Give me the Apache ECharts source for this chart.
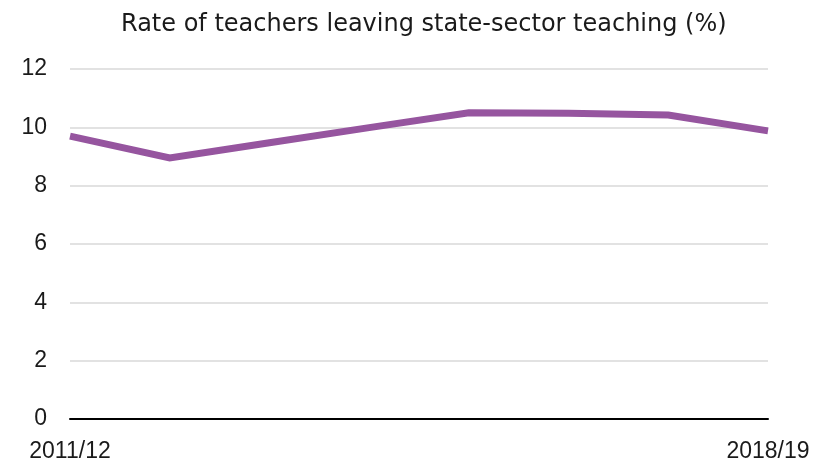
<!DOCTYPE html>
<html>
<head>
    <meta charset="UTF-8">
    <title>teachers leaving</title>
    <style type="text/css">
        html, body {
            margin: 0;
            padding: 0;
            background: #fff;
        }

        #chart {
            width: 819px;
            height: 464px;
        }
    </style>
    <script type="text/javascript" src="https://cdn.jsdelivr.net/npm/echarts@6/dist/echarts.min.js"></script>
</head>
<body>
<div id="chart"></div>
<script type="text/javascript">
    var years = ['2011/12', '2012/13', '2013/14', '2014/15', '2015/16', '2016/17', '2017/18', '2018/19'];
    var leavingRate = [9.7, 8.95, 9.47, 9.99, 10.5, 10.48, 10.42, 9.88];
    var yTicks = {min: 0, max: 12, step: 2};

    var myChart = echarts.init(document.getElementById('chart'));
    var option = {
        animation: false,
        title: {
            text: 'Rate of teachers leaving state-sector teaching (%)',
            left: 116,
            top: 8,
            textStyle: {
                fontFamily: 'DejaVu Sans',
                fontWeight: 'normal',
                fontSize: 24,
                color: '#1a1a1a'
            }
        },
        grid: {
            left: 70,
            right: 51,
            top: 69,
            bottom: 45,
            containLabel: false
        },
        xAxis: {
            type: 'category',
            boundaryGap: false,
            data: years,
            axisLine: {lineStyle: {color: '#000', width: 2}},
            axisTick: {show: false},
            axisLabel: {
                interval: function (i) {
                    return i === 0 || i === years.length - 1;
                },
                margin: 21,
                fontFamily: 'Liberation Sans',
                fontSize: 23,
                color: '#1a1a1a'
            }
        },
        yAxis: {
            type: 'value',
            min: yTicks.min,
            max: yTicks.max,
            interval: yTicks.step,
            axisLine: {show: false},
            axisTick: {show: false},
            splitLine: {lineStyle: {color: '#d9d9d9', width: 1.5}},
            axisLabel: {
                margin: 23,
                fontFamily: 'Liberation Sans',
                fontSize: 23,
                color: '#1a1a1a'
            }
        },
        series: [{
            type: 'line',
            data: leavingRate,
            symbol: 'none',
            lineStyle: {color: '#96559f', width: 7, cap: 'butt', join: 'miter'}
        }]
    };
    myChart.setOption(option);
</script>
</body>
</html>
